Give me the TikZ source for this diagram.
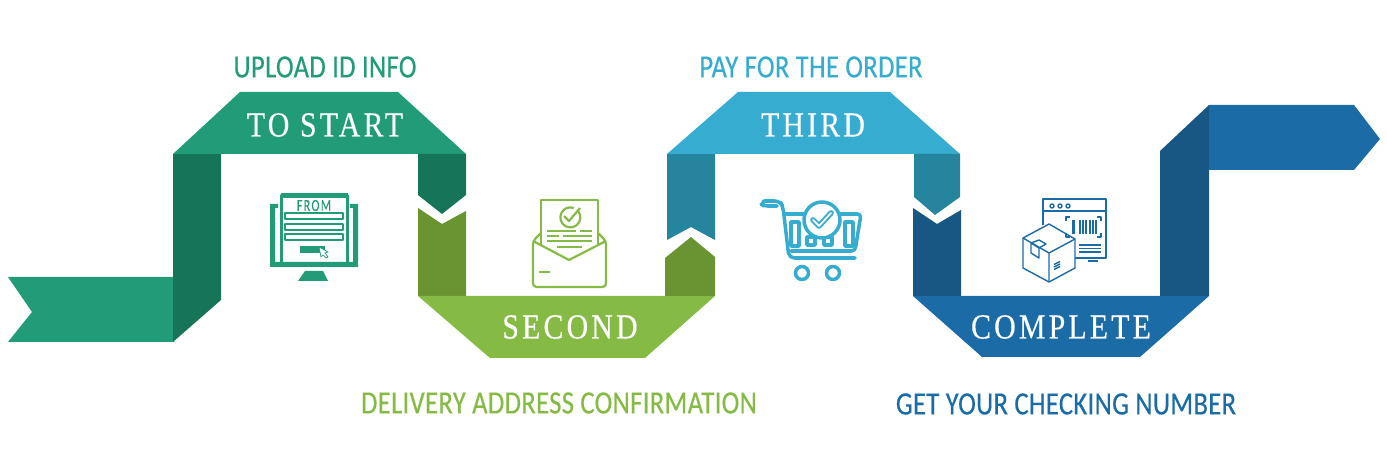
\documentclass[tikz,border=0pt]{standalone}
\usepackage{fontspec}
\newfontfamily\bandfont[LetterSpace=9,FakeStretch=0.85,FakeBold=0.35]{Liberation Serif}
\newfontfamily\capfont[LetterSpace=1,FakeStretch=0.82,FakeBold=0.4]{Carlito}
\newfontfamily\fromfont[LetterSpace=8,FakeStretch=0.72,FakeBold=0.3]{Carlito}
\usepackage{tikz}
\usetikzlibrary{calc,positioning}
\definecolor{greenM}{HTML}{219B78}
\definecolor{greenD}{HTML}{167558}
\definecolor{limeM}{HTML}{85BB45}
\definecolor{limeD}{HTML}{6A9332}
\definecolor{cyanM}{HTML}{36ACD1}
\definecolor{cyanD}{HTML}{25849E}
\definecolor{blueM}{HTML}{1B6CA6}
\definecolor{blueD}{HTML}{185683}
\tikzstyle{bandtext}=[text=white, font=\bandfont\fontsize{20}{20}\selectfont, inner sep=0pt]
\tikzstyle{captext}=[font=\capfont\fontsize{18.5}{20}\selectfont, inner sep=0pt]
\tikzstyle{ln}=[line width=1.25pt, line join=round]
\tikzstyle{thin}=[line width=0.8pt, line join=round]
\tikzstyle{thick}=[line width=2pt, line join=round, line cap=round]

\begin{document}
\begin{tikzpicture}[x=0.02cm, y=-0.02cm]
    \useasboundingbox (0,0) rectangle (1387,469);
    % ribbon
    \fill[greenM] (8,277) -- (174,277) -- (174,342) -- (8,342) -- (32,312) -- cycle;
    \fill[greenD] (173,154) -- (221,154) -- (221,300) -- (173,342) -- cycle;
    \fill[greenM] (173,154) -- (240,92) -- (398,92) -- (466,154) -- cycle;
    \fill[greenD] (418,154) -- (466,154) -- (466,195) -- (442,214) -- (418,195) -- cycle;
    \fill[limeD] (418,208) -- (442,224) -- (466,211) -- (466,296) -- (418,296) -- cycle;
    \fill[limeM] (418,296) -- (490,358) -- (645,358) -- (715,296) -- cycle;
    \fill[limeD] (665,296) -- (665,258) -- (691,237) -- (715,257) -- (715,296) -- cycle;
    \fill[cyanD] (667,154) -- (715,154) -- (715,240) -- (691,227) -- (667,240) -- cycle;
    \fill[cyanM] (667,154) -- (738,92) -- (890,92) -- (960,154) -- cycle;
    \fill[cyanD] (914,154) -- (960,154) -- (960,197) -- (935,215) -- (914,197) -- cycle;
    \fill[blueD] (913,208) -- (937,224) -- (961,210) -- (961,296) -- (913,296) -- cycle;
    \fill[blueM] (913,296) -- (982,357) -- (1140,357) -- (1209,296) -- cycle;
    \fill[blueD] (1160,296) -- (1160,151) -- (1209,105) -- (1209,296) -- cycle;
    \fill[blueM] (1209,105) -- (1354,105) -- (1380,139) -- (1354,170) -- (1209,170) -- cycle;

    % titles
    \node[bandtext] at (325,125) (start) {TO START};
    \node[bandtext] at (813,125) (third) {THIRD};
    \node[bandtext] at (570,327) (second) {SECOND};
    \node[bandtext] at (1061,327) (complete) {COMPLETE};
    \node[captext, text=greenM] at (325,67) (upload) {UPLOAD ID INFO};
    \node[captext, text=cyanM] at (811,67) (pay) {PAY FOR THE ORDER};
    \node[captext, text=limeM] at (559,403) (delivery) {DELIVERY ADDRESS CONFIRMATION};
    \node[captext, text=blueM] at (1066,404) (number) {GET YOUR CHECKING NUMBER};

    % monitor
    \fill[greenM] (278,204) -- (270,204) -- (270,267) -- (358,267) -- (358,204) -- (350,204) -- (350,208) -- (353,208) -- (353,262) -- (275,262) -- (275,208) -- (278,208) -- cycle;
    \draw[greenM, ln] (281.5,195) rectangle (347.5,263);
    \fill[greenM] (281,193) rectangle (348,198);
    \foreach \y in {213,224,234}
        \draw[greenM, thin] (285,\y) rectangle (343,\y+6);
    \fill[greenM] (300,246) rectangle (325,253);
    \fill[greenM] (305,271) -- (323,271) -- (328,281) -- (298,281) -- cycle;
    \fill[white, draw=greenM, line width=0.4pt] (319,247) -- (328,252) -- (325,253) -- (328,257) -- (326,258) -- (323,255) -- (321,257) -- cycle;
    \node[text=greenM, font=\fromfont\fontsize{9.5}{10}\selectfont, inner sep=0pt] at (314,205.5) (from) {FROM};

    % envelope
    \draw[limeM, ln] (541,246) -- (541,200) -- (598,200) -- (598,246);
    \draw[limeM, ln, rounded corners=2pt] (541,233) -- (533,241) -- (533,287) -- (606,287) -- (606,241) -- (598,233);
    \draw[limeM, ln] (533,241) -- (569,260) -- (606,241);
    \draw[limeM, ln] (578,211) arc (-40:290:10);
    \draw[limeM, ln] (564,216) -- (569,221) -- (580,208);
    \draw[limeM, ln] (547,231) -- (576,231) (580,231) -- (592,231);
    \draw[limeM, ln] (547,236) -- (559,236) (563,236) -- (592,236);
    \draw[limeM, ln] (547,241) -- (592,241);
    \draw[limeM, ln] (557,247) -- (582,247);
    \draw[limeM, ln] (539,272) -- (550,272);

    % cart
    \draw[cyanM, thick, rounded corners=3pt] (764,201) -- (780,201) -- (783,207) -- (789,258) -- (855,258);
    \draw[cyanM, thick, rounded corners=2pt] (764,201) -- (761,204) -- (764,206) -- (777,206);
    \draw[cyanM, thick, rounded corners=2pt] (785,214) -- (861,214) -- (855,251) -- (791,251);
    \foreach \x in {791,845}
        \draw[cyanM, thick] (\x,222) rectangle (\x+8,246);
    \foreach \x in {807,824}
        \draw[cyanM, thick] (\x,237) rectangle (\x+8,245);
    \draw[cyanM, thick, fill=white] (822,220) circle (18);
    \draw[cyanM, line width=3.2pt, line join=round, line cap=round] (813,220) -- (819,226) -- (831,213);
    \draw[white, line width=1pt, line join=round, line cap=round] (813,220) -- (819,226) -- (831,213);
    \draw[cyanM, thick] (802,273) circle (6.5);
    \draw[cyanM, thick] (833,273) circle (6.5);

    % parcel
    \draw[blueM, thin] (1043,225) -- (1043,199) -- (1106,199) -- (1106,258) -- (1075,258);
    \draw[blueM, thin] (1043,211) -- (1106,211);
    \foreach \x in {1052,1060,1068}
        \draw[blueM, thin] (\x,206) circle (2);
    \draw[blueM, thin] (1066,221) -- (1066,217) -- (1070,217) (1097,217) -- (1101,217) -- (1101,221);
    \draw[blueM, thin] (1066,233) -- (1066,237) -- (1070,237) (1097,237) -- (1101,237) -- (1101,233);
    \foreach \x/\w in {1072/3,1079/1.5,1082/1.5,1085/2,1089/1.5,1092/1.5,1095/2}
        \fill[blueM] (\x,220) rectangle (\x+\w,234);
    \foreach \y in {245,248.5,252}
        \draw[blueM, thin] (1079,\y) -- (1101,\y);
    \draw[blueM, thin] (1088,261) -- (1098,261);
    \draw[blueM, thin] (1049,224) -- (1075,239) -- (1075,268) -- (1049,282) -- (1023,268) -- (1023,238) -- cycle;
    \draw[blueM, thin] (1023,238) -- (1049,253) -- (1075,239) (1049,253) -- (1049,282);
    \draw[blueM, thin] (1031,243) -- (1039,240) -- (1046,244) -- (1039,248) -- (1039,258) -- (1031,253) -- cycle (1031,243) -- (1039,248);
    \foreach \y in {263,265.5,268}
        \draw[blueM, thin] (1054,\y+1.5) -- (1060,\y-1.5);
\end{tikzpicture}
\end{document}
